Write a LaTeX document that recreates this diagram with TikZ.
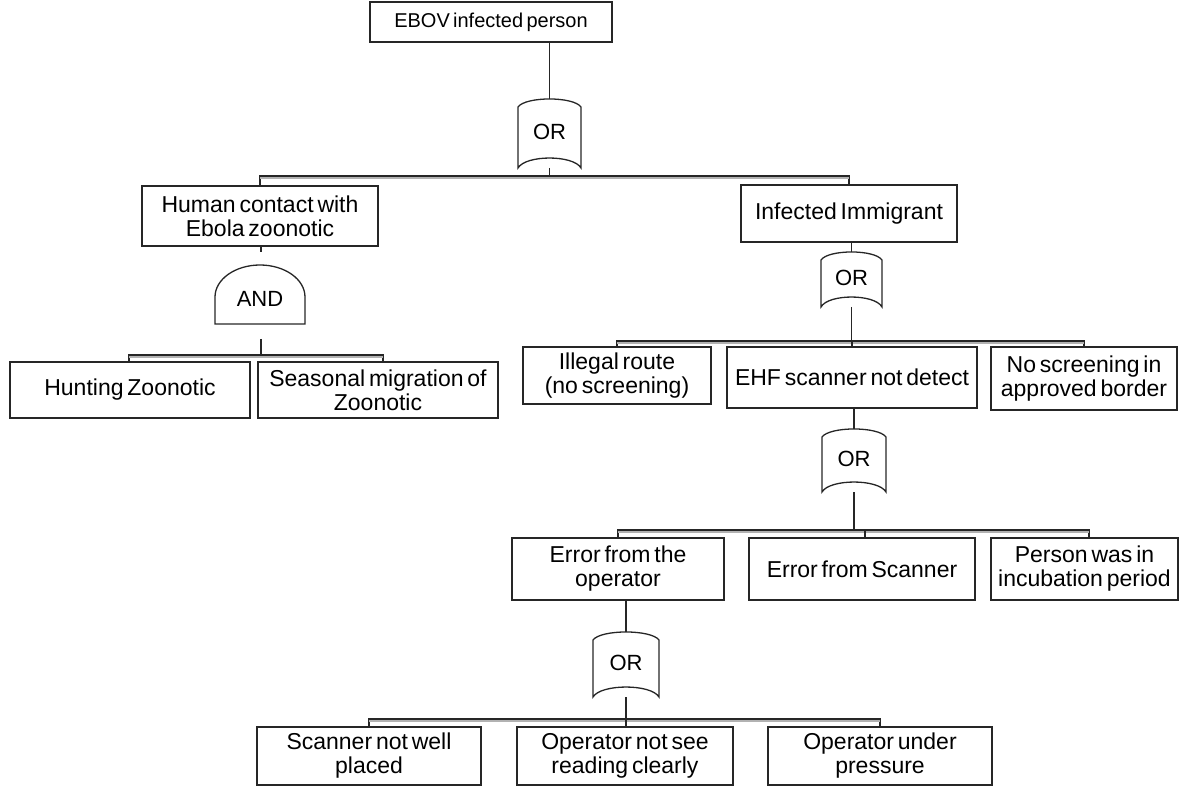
\documentclass[tikz,border=0pt]{standalone}
\usepackage{fontspec}
\setmainfont{Liberation Sans}[WordSpace=0.6]
\newcommand\mkorgate[5]{% name, cx, width, y top corners, y bottom corners
  \draw[gateline] ({#2-#3/2},#5) -- ({#2-#3/2},#4)
    .. controls ({#2-#3/2+0.12*#3},{#4-10.7}) and ({#2+#3/2-0.12*#3},{#4-10.7}) .. ({#2+#3/2},#4)
    -- ({#2+#3/2},#5)
    .. controls ({#2+#3/2-0.12*#3},{#5-13.3}) and ({#2-#3/2+0.12*#3},{#5-13.3}) .. ({#2-#3/2},#5) -- cycle;
  \node[gatetext] (#1) at (#2,{(#4+#5)/2-6}) {OR};
  \coordinate (#1t) at (#2,{#4-8});
  \coordinate (#1b) at (#2,#5);
}
\begin{document}
\begin{tikzpicture}[x=1pt,y=-1pt,
  box/.style={draw=black!85, line width=1.3pt, fill=white, align=center, inner sep=0pt,
    font=\fontsize{23}{24}\selectfont},
  gateline/.style={draw=black!85, line width=1.3pt},
  gatetext/.style={inner sep=0pt, font=\fontsize{22}{24}\selectfont},
  wire/.style={draw=black!85, line width=1.2pt},
  barshade/.style={draw=gray!60, line width=1.6pt, transform canvas={yshift=-2pt}}]
\useasboundingbox (0,0) rectangle (1180,791);

% boxes
\node[box, minimum width=242, minimum height=40, font=\fontsize{20}{24}\selectfont] (top) at (491,22) {EBOV infected person};
\node[box, minimum width=236, minimum height=60] (hc) at (260,216) {Human contact with\\Ebola zoonotic};
\node[box, minimum width=216, minimum height=57] (ii) at (849,213.5) {Infected Immigrant};
\node[box, minimum width=240, minimum height=56] (hz) at (130,390) {Hunting Zoonotic};
\node[box, minimum width=240, minimum height=56] (sm) at (378,390) {Seasonal migration of\\Zoonotic};
\node[box, minimum width=188, minimum height=57] (il) at (617,375.5) {Illegal route\\(no screening)};
\node[box, minimum width=250, minimum height=61] (ehf) at (852,377.5) {EHF scanner not detect};
\node[box, minimum width=186, minimum height=63] (ns) at (1084,378.5) {No screening in\\approved border};
\node[box, minimum width=212, minimum height=62] (eo) at (618,569) {Error from the\\operator};
\node[box, minimum width=226, minimum height=62] (es) at (862,569) {Error from Scanner};
\node[box, minimum width=187, minimum height=62] (pi) at (1084.5,569) {Person was in\\incubation period};
\node[box, minimum width=224, minimum height=58] (sn) at (369,756) {Scanner not well\\placed};
\node[box, minimum width=216, minimum height=58] (on) at (625,756) {Operator not see\\reading clearly};
\node[box, minimum width=224, minimum height=58] (op) at (880,756) {Operator under\\pressure};

% gates
\mkorgate{g1}{549.5}{63}{107}{168}
\mkorgate{g2}{851.5}{61}{260}{307}
\mkorgate{g3}{854}{64}{437}{492}
\mkorgate{g4}{626}{66}{640}{697}
\draw[gateline] (215,324) -- (215,297)
  .. controls (215,279.3) and (235.2,265) .. (260,265)
  .. controls (284.8,265) and (305,279.3) .. (305,297) -- (305,324) -- cycle;
\node[gatetext] (gand) at (260,299) {AND};
\coordinate (gandt) at (261,252);
\coordinate (gandb) at (261,339);

% bar levels
\coordinate (b1) at (0,176);
\coordinate (b2) at (0,355);
\coordinate (b3) at (0,341);
\coordinate (b4) at (0,530);
\coordinate (b5) at (0,719);

% top level
\draw[wire] (top.south -| g1t) -- (g1t);
\draw[wire] (g1b) -- (g1b |- b1);
\draw[wire] (hc.north) -- (hc.north |- b1) -- (ii.north |- b1) -- (ii.north);
\draw[barshade] (hc.north |- b1) -- (ii.north |- b1);

% AND branch
\draw[wire] (hc.south -| gandt) -- (gandt);
\draw[wire] (gandb) -- (gandb |- b2);
\draw[wire] ([xshift=-1pt]hz.north) -- ([xshift=-1pt]hz.north |- b2) -- ([xshift=5pt]sm.north |- b2) -- ([xshift=5pt]sm.north);
\draw[barshade] ([xshift=-1pt]hz.north |- b2) -- ([xshift=5pt]sm.north |- b2);

% immigrant branch
\draw[wire] (ii.south -| g2t) -- (g2t);
\draw[wire] (g2b) -- (g2b |- b3);
\draw[wire] (il.north) -- (il.north |- b3) -- (ns.north |- b3) -- (ns.north);
\draw[barshade] (il.north |- b3) -- (ns.north |- b3);
\draw[wire] (ehf.north) -- (ehf.north |- b3);

% EHF branch
\draw[wire] (ehf.south -| g3t) -- (g3t);
\draw[wire, line width=2.2pt] (g3b) -- (g3b |- b4);
\draw[wire] (eo.north) -- (eo.north |- b4) -- ([xshift=4.5pt]pi.north |- b4) -- ([xshift=4.5pt]pi.north);
\draw[barshade] (eo.north |- b4) -- ([xshift=4.5pt]pi.north |- b4);
\draw[wire] ([xshift=3pt]es.north) -- ([xshift=3pt]es.north |- b4);

% operator branch
\draw[wire] (eo.south -| g4t) -- (g4t);
\draw[wire] (g4b) -- (g4b |- b5);
\draw[wire] (sn.north) -- (sn.north |- b5) -- (op.north |- b5) -- (op.north);
\draw[barshade] (sn.north |- b5) -- (op.north |- b5);
\draw[wire] (on.north -| g4b) -- (g4b |- b5);
\end{tikzpicture}
\end{document}
